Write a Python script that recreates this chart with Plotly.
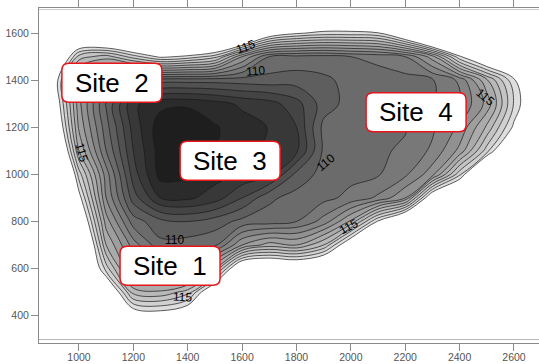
import plotly.graph_objects as go

# ---------------- data ----------------
x_vals = [800, 900, 1000, 1100, 1200, 1300, 1400, 1500, 1600, 1700,
          1800, 1900, 2000, 2100, 2200, 2300, 2400, 2500, 2600, 2700]
y_vals = [1700, 1600, 1500, 1400, 1300, 1200, 1100, 1000, 900, 800,
          700, 600, 500, 400, 300]

# rows from top (y=1700) to bottom (y=300); columns follow x_vals
z_rows = [
    [125, 125, 125, 125, 125, 125, 125, 125, 125, 125, 125, 125, 125, 125, 125, 125, 125, 125, 125, 125],
    [125, 125, 125, 126, 127, 127, 127, 127, 126.5, 121.6, 120.2, 119.6, 119.6, 119.9, 123, 128, 126, 125, 125, 125],
    [125, 125, 117.5, 116.5, 118.5, 120.3, 119.7, 118.5, 114, 111, 110.7, 110.6, 111, 111.3, 112, 114.5, 119.8, 123, 125, 125],
    [125, 121.7, 114, 111.5, 110, 109.4, 109.4, 109.4, 109.5, 109.6, 109.5, 109.8, 110.3, 110.5, 110.6, 110.9, 112.2, 115.8, 119.8, 122.5],
    [125, 122.4, 114.3, 109.9, 106.2, 105.3, 105.2, 105.6, 106.2, 106.6, 107.6, 109.5, 110.4, 110.6, 110.8, 110.9, 112.0, 114.3, 119.1, 122.8],
    [125, 123.6, 114.8, 110.4, 106.6, 104.4, 104.0, 104.9, 105.5, 106.05, 107, 110.3, 110.5, 110.7, 110.9, 111.8, 113.2, 116.2, 120.3, 125],
    [125, 125.8, 116, 111, 107, 104.5, 104.2, 105.0, 105.6, 106.3, 106.8, 110.2, 110.6, 110.8, 111.2, 112.2, 114.3, 118.5, 124.3, 125],
    [125, 128.6, 118.5, 112.5, 107.5, 104.6, 104.8, 105.6, 106.2, 106.7, 109.3, 110.4, 110.7, 110.9, 111.8, 113.6, 118.7, 125.7, 125, 125],
    [125, 125, 120.6, 113, 108.5, 106.0, 105.8, 106.5, 108, 109.8, 110.4, 110.7, 111.3, 112.2, 114, 122.1, 125, 125, 125, 125],
    [125, 125, 122.75, 114.5, 110.5, 109.3, 109, 109.5, 110.3, 110.5, 111.0, 112.4, 115.2, 120.2, 124, 125, 125, 125, 125, 125],
    [125, 125, 125, 116, 112.5, 110.3, 110.5, 110.8, 114, 115.5, 115, 117, 122, 125, 125, 125, 125, 125, 125, 125],
    [125, 125, 125, 118.5, 113.5, 112.3, 112.5, 116, 123, 123.6, 123, 124, 125, 125, 125, 125, 125, 125, 125, 125],
    [125, 125, 125, 123, 116.5, 116.2, 117.5, 122.5, 125, 125, 125, 125, 125, 125, 125, 125, 125, 125, 125, 125],
    [125, 125, 125, 125, 121.5, 121, 122, 125, 125, 125, 125, 125, 125, 125, 125, 125, 125, 125, 125, 125],
    [125, 125, 125, 125, 125, 125, 125, 125, 125, 125, 125, 125, 125, 125, 125, 125, 125, 125, 125, 125],
]

x_ticks = [1000, 1200, 1400, 1600, 1800, 2000, 2200, 2400, 2600]
y_ticks = [400, 600, 800, 1000, 1200, 1400, 1600]

level_start, level_end, level_step = 105, 120, 1

site_names = ["Site\u00a0\u00a01", "Site\u00a0\u00a02", "Site\u00a0\u00a03", "Site\u00a0\u00a04"]
site_x = [1335, 1121, 1556, 2240]
site_y = [612, 1389, 1058, 1264]

contour_label_text = ["115", "110", "115", "110", "115", "110", "115", "115"]
contour_label_x = [1611, 1648, 2494, 1905, 1990, 1353, 1379, 1011]
contour_label_y = [1542, 1440, 1330, 1050, 778, 722, 480, 1092]
contour_label_angle = [-20, -5, 40, -40, -28, 0, 3, 75]

# ---------------- figure ----------------
W, H = 539, 364
M_L, M_R, M_T, M_B = 39, 0, 8, 21
x_range = [853, 2692]
y_range = [284, 1706.6]

nlev = int((level_end - level_start) / level_step) + 1
colorscale = [[0.0, "rgb(30,30,30)"],
              [(nlev - 1) / nlev, "rgb(222,222,222)"],
              [1.0, "rgb(255,255,255)"]]

fig = go.Figure()
fig.add_trace(go.Contour(
    x=x_vals,
    y=y_vals[::-1],
    z=z_rows[::-1],
    colorscale=colorscale,
    showscale=False,
    contours=dict(start=level_start, end=level_end, size=level_step,
                  coloring="fill", showlabels=False),
    line=dict(color="#1a1a1a", width=0.7, smoothing=1),
    hoverinfo="skip",
))

# unit conversion px -> data for box geometry
px_x = (x_range[1] - x_range[0]) / (W - M_L - M_R)
px_y = (y_range[1] - y_range[0]) / (H - M_T - M_B)
bw, bh, r = 100, 39, 7

shapes = []
for cx, cy in zip(site_x, site_y):
    x0 = cx - bw / 2 * px_x
    x1 = cx + bw / 2 * px_x
    y0 = cy - bh / 2 * px_y
    y1 = cy + bh / 2 * px_y
    rx = r * px_x
    ry = r * px_y
    path = (f"M {x0+rx},{y1} L {x1-rx},{y1} Q {x1},{y1} {x1},{y1-ry} "
            f"L {x1},{y0+ry} Q {x1},{y0} {x1-rx},{y0} "
            f"L {x0+rx},{y0} Q {x0},{y0} {x0},{y0+ry} "
            f"L {x0},{y1-ry} Q {x0},{y1} {x0+rx},{y1} Z")
    shapes.append(dict(type="path", path=path, xref="x", yref="y",
                       fillcolor="white", line=dict(color="#e8161b", width=1.5),
                       layer="above"))

annotations = []
for t, cx, cy in zip(site_names, site_x, site_y):
    annotations.append(dict(x=cx, y=cy, xref="x", yref="y", text=t,
                            showarrow=False,
                            font=dict(family="Liberation Sans, Arial", size=26, color="black")))
for t, lx, ly, a in zip(contour_label_text, contour_label_x, contour_label_y, contour_label_angle):
    annotations.append(dict(x=lx, y=ly, xref="x", yref="y", text=t, textangle=a,
                            showarrow=False,
                            font=dict(family="Liberation Sans, Arial", size=12, color="black")))

axis_common = dict(showgrid=False, zeroline=False, showline=True, linecolor="#8a8a8a",
                   linewidth=1, ticks="outside", ticklen=7, tickcolor="#8a8a8a",
                   mirror="ticks", automargin=False,
                   tickfont=dict(family="Liberation Sans, Arial", size=10.5, color="#555555"))

fig.update_layout(
    width=W, height=H,
    margin=dict(l=M_L, r=M_R, t=M_T, b=M_B, pad=0),
    paper_bgcolor="white", plot_bgcolor="white",
    xaxis=dict(range=x_range, tickvals=x_ticks, **axis_common),
    yaxis=dict(range=y_range, tickvals=y_ticks, **axis_common),
    shapes=shapes,
    annotations=annotations,
    showlegend=False,
)
try:
    fig.update_xaxes(ticklabelstandoff=-3)
except Exception:
    fig.update_xaxes(ticklen=5)

fig.write_html("out.html")
